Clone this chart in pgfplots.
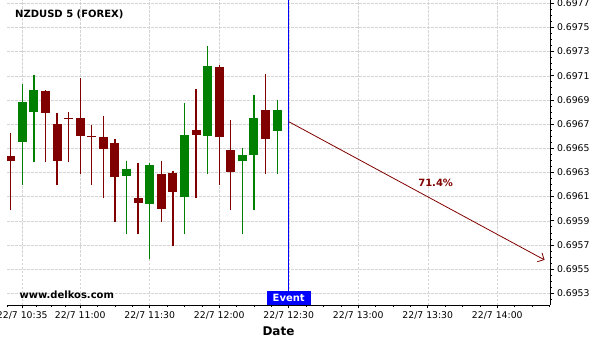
\documentclass[border=0pt]{standalone}
\usepackage{pgfplots}
\pgfplotsset{compat=1.18}
\usepackage{pgfplotstable}
\usepackage{fontspec}
\setmainfont{DejaVu Sans}
\usetikzlibrary{arrows.meta,calc}
\definecolor{cred}{HTML}{800000}
\definecolor{cgreen}{HTML}{008000}

% t = minutes after 10:00
\pgfplotstableread{
t o h l c
30 0.696433 0.696623 0.695986 0.696394
45 0.696975 0.696986 0.696389 0.696794
50 0.696700 0.696789 0.696192 0.696394
55 0.696750 0.696798 0.696389 0.696740
60 0.696750 0.697078 0.696289 0.696603
65 0.696600 0.696689 0.696192 0.696590
70 0.696592 0.696764 0.696089 0.696494
75 0.696542 0.696575 0.695889 0.696261
85 0.696092 0.696375 0.695789 0.696044
95 0.696283 0.696398 0.695889 0.695994
100 0.696292 0.696308 0.695689 0.696136
110 0.696650 0.696989 0.696089 0.696611
120 0.697175 0.697192 0.696192 0.696594
125 0.696483 0.696731 0.695989 0.696303
140 0.696817 0.697114 0.696289 0.696578
}\redtable

\pgfplotstableread{
t o h l c
35 0.696553 0.697033 0.696192 0.696883
40 0.696803 0.697106 0.696389 0.696983
80 0.696269 0.696398 0.695789 0.696325
90 0.696036 0.696375 0.695581 0.696358
105 0.696094 0.696872 0.695789 0.696608
115 0.696603 0.697347 0.696289 0.697183
130 0.696394 0.696506 0.695792 0.696442
135 0.696444 0.696939 0.695989 0.696750
145 0.696644 0.696898 0.696289 0.696817
}\greentable

\begin{document}
\begin{tikzpicture}
\begin{axis}[
  scale only axis, width=543pt, height=305pt,
  xmin=28.4, xmax=262.75, ymin=0.695203, ymax=0.697727,
  axis x line*=bottom, axis y line*=right,
  axis line style={-, line width=0.9pt},
  xtick={35,60,90,120,150,180,210,240},
  xticklabels={22/7 10:35,22/7 11:00,22/7 11:30,22/7 12:00,22/7 12:30,22/7 13:00,22/7 13:30,22/7 14:00},
  minor xtick={28.75,41.25,47.5,53.75,67.5,75,82.5,97.5,105,112.5,127.5,135,142.5,157.5,165,172.5,187.5,195,202.5,217.5,225,232.5,247.5,255,262.5},
  ytick={0.6953,0.6955,0.6957,0.6959,0.6961,0.6963,0.6965,0.6967,0.6969,0.6971,0.6973,0.6975,0.6977},
  yticklabels={0.6953,0.6955,0.6957,0.6959,0.6961,0.6963,0.6965,0.6967,0.6969,0.6971,0.6973,0.6975,0.6977},
  minor ytick={0.69525,0.69535,0.6954,0.69545,0.69555,0.6956,0.69565,0.69575,0.6958,0.69585,0.69595,0.696,0.69605,0.69615,0.6962,0.69625,0.69635,0.6964,0.69645,0.69655,0.6966,0.69665,0.69675,0.6968,0.69685,0.69695,0.697,0.69705,0.69715,0.6972,0.69725,0.69735,0.6974,0.69745,0.69755,0.6976,0.69765},
  tick align=outside,
  major tick length=3.5pt, minor tick length=2pt,
  tick style={black, line width=0.7pt},
  grid=major,
  major grid style={dash pattern=on 2.5pt off 1.5pt, color=black!17, line width=0.5pt},
  ticklabel style={font=\fontsize{9.3}{11}\selectfont},
  xlabel={Date},
  xlabel style={font=\bfseries\fontsize{12}{14}\selectfont},
]
% wicks
\addplot[cred, line width=1.3pt, quiver={u=0, v=\thisrow{h}-\thisrow{l}}] table[x=t, y=l] {\redtable};
\addplot[cgreen, line width=1.3pt, quiver={u=0, v=\thisrow{h}-\thisrow{l}}] table[x=t, y=l] {\greentable};
% bodies
\addplot[cred, line width=9pt, quiver={u=0, v=\thisrow{c}-\thisrow{o}}] table[x=t, y=o] {\redtable};
\addplot[cgreen, line width=9pt, quiver={u=0, v=\thisrow{c}-\thisrow{o}}] table[x=t, y=o] {\greentable};
% event line
\addplot[blue, line width=1.1pt] coordinates {(150,0.6952) (150,0.6978)};
% forecast arrow
\addplot[cred, line width=0.8pt, -{Straight Barb[length=5pt,width=10pt]}] coordinates {(150,0.69672) (260.4,0.695576)};
\node[text=cred, font=\bfseries\fontsize{10}{12}\selectfont] at (axis cs:213.4,0.696211) {71.4\%};
\node[fill=blue, text=white, font=\bfseries\fontsize{10}{12}\selectfont, anchor=south, inner xsep=5.8pt, inner ysep=0pt, minimum height=13.7pt] at (axis cs:150,0.695203) {Event};
\node[anchor=base west, font=\bfseries\fontsize{10}{12}\selectfont] at ([xshift=4.7pt, yshift=-18pt]rel axis cs:0,1) {NZDUSD 5 (FOREX)};
\node[anchor=base west, font=\bfseries\fontsize{10}{12}\selectfont] at ([xshift=9pt, yshift=6.5pt]rel axis cs:0,0) {www.delkos.com};
\end{axis}
\pgfresetboundingbox
\path[use as bounding box] ($(current axis.south west)+(-7pt,-35pt)$) rectangle ($(current axis.north east)+(50pt,0pt)$);
\end{tikzpicture}
\end{document}
